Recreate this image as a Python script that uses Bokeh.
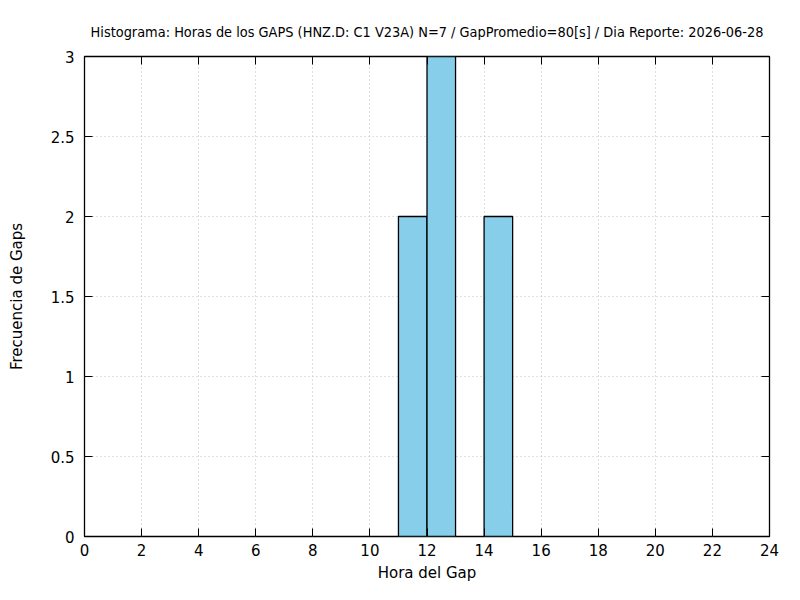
from bokeh.plotting import figure
from bokeh.models import Range1d, FixedTicker, LinearAxis, CustomJSTickFormatter, Title
from bokeh.embed import file_html
from bokeh.resources import INLINE

# Data
hora_inicio = [11, 12, 14]
frecuencia = [2, 3, 2]
x_ticks = [0, 2, 4, 6, 8, 10, 12, 14, 16, 18, 20, 22, 24]
y_ticks = [0, 0.5, 1, 1.5, 2, 2.5, 3]
titulo = "Histograma: Horas de los GAPS (HNZ.D: C1 V23A) N=7 / GapPromedio=80[s] / Dia Reporte: 2026-06-28"
x_label = "Hora del Gap"
y_label = "Frecuencia de Gaps"

hora_fin = [h + 1 for h in hora_inicio]

p = figure(width=784, height=584, output_backend="svg", toolbar_location=None,
           x_range=Range1d(0, 24), y_range=Range1d(0, 3),
           min_border_left=84, min_border_right=15, min_border_top=56, min_border_bottom=40,
           x_axis_location=None, y_axis_location=None)
p.background_fill_color = "white"
p.border_fill_color = "white"
p.outline_line_color = "black"
p.outline_line_width = 1.3

fmt = CustomJSTickFormatter(code="return String(tick);")

def make_axis(ticks, show_labels, label=None):
    ax = LinearAxis(ticker=FixedTicker(ticks=ticks), formatter=fmt)
    ax.axis_line_color = None
    ax.major_tick_in = 8
    ax.major_tick_out = 0
    ax.minor_tick_in = 0
    ax.minor_tick_out = 0
    ax.major_tick_line_color = "black"
    ax.major_tick_line_width = 1
    ax.major_label_text_font = "DejaVu Sans"
    ax.major_label_text_font_size = "15px"
    ax.major_label_text_color = "black"
    if not show_labels:
        ax.major_label_text_font_size = "0px"
        ax.major_label_text_alpha = 0
        ax.major_label_standoff = 0
    if label:
        ax.axis_label = label
        ax.axis_label_text_font = "DejaVu Sans"
        ax.axis_label_text_font_size = "15px"
        ax.axis_label_text_font_style = "normal"
        ax.axis_label_text_color = "black"
    return ax

xb = make_axis(x_ticks, True, x_label)
xb.major_label_standoff = 7
xb.axis_label_standoff = 5
yl = make_axis(y_ticks, True, y_label)
yl.major_label_standoff = 10
yl.axis_label_standoff = 22
xt = make_axis(x_ticks, False)
yr = make_axis(y_ticks, False)
p.add_layout(xb, "below")
p.add_layout(yl, "left")
p.add_layout(xt, "above")
p.add_layout(yr, "right")

t = Title(text=titulo, align="center", text_font="DejaVu Sans Condensed",
          text_font_size="14.4px", text_font_style="normal", text_color="black", offset=0,
          standoff=33)
p.add_layout(t, "above")

p.xgrid.ticker = FixedTicker(ticks=x_ticks)
p.ygrid.ticker = FixedTicker(ticks=y_ticks)
for g in (p.xgrid, p.ygrid):
    g.grid_line_color = "#c0c0c0"
    g.grid_line_dash = "1 3"
    g.grid_line_width = 1

p.quad(left=hora_inicio, right=hora_fin, bottom=0, top=frecuencia,
       fill_color="#87CEEB", line_color="black", line_width=1.3)

open("out.html", "w").write(file_html(p, INLINE))
